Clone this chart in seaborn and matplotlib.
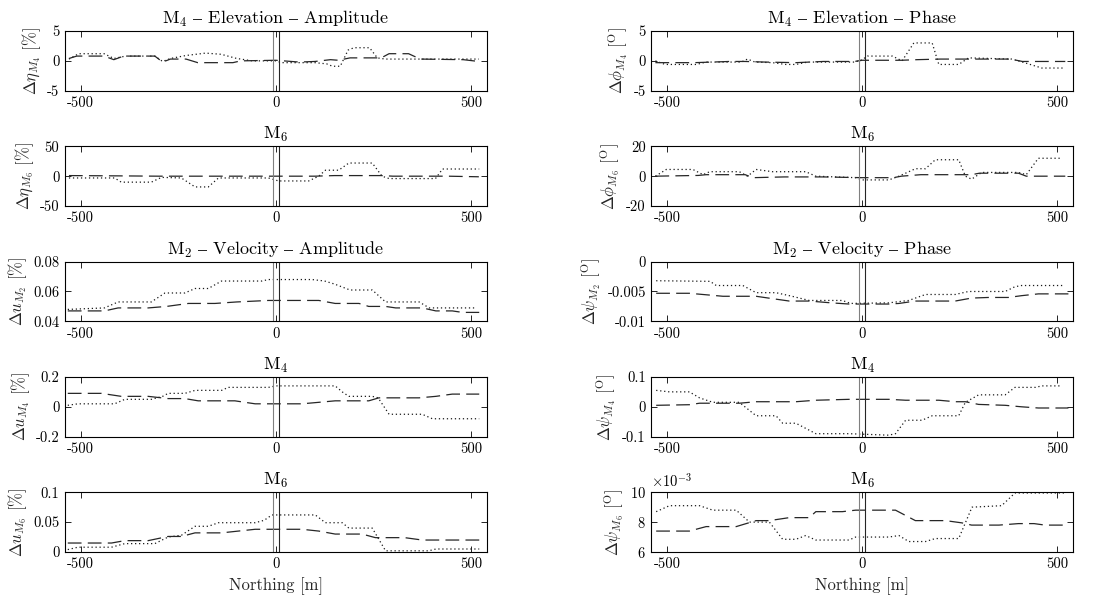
import matplotlib
matplotlib.use("Agg")
import matplotlib.pyplot as plt
import pandas as pd
import seaborn as sns
from matplotlib.ticker import ScalarFormatter

# --- values, one pair of x/y lists per line ---
# M4 elevation amplitude [%]
eta4_dot_x = [-530, -505, -440, -415, -385, -310, -290, -270, -230, -180, -140, -100, -60, 0, 15, 100, 130, 145, 165, 185, 200, 240, 260, 280, 400, 520]
eta4_dot_y = [0.3, 1.2, 1.2, 0.4, 0.8, 0.8, -0.1, 0.4, 0.9, 1.3, 1.1, 0.4, 0.0, 0.0, -0.3, -0.3, -0.5, -0.9, -0.9, 1.8, 2.2, 2.2, 0.5, 0.3, 0.3, 0.3]
eta4_dash_x = [-530, -510, -440, -415, -390, -310, -290, -270, -230, -200, -110, -90, 0, 60, 100, 140, 160, 190, 270, 290, 340, 370, 480, 520]
eta4_dash_y = [0.4, 0.8, 0.8, 0.2, 0.8, 0.8, -0.2, 0.3, 0.3, -0.3, -0.3, 0.0, 0.1, -0.2, -0.1, 0.2, 0.1, 0.5, 0.5, 1.2, 1.2, 0.3, 0.2, -0.1]

# M4 elevation phase [deg]
phi4_dot_x = [-530, -505, -425, -400, -310, -294, -275, -230, -196, -170, -140, -20, 0, 13, 77, 102, 132, 179, 196, 247, 272, 383, 410, 460, 520]
phi4_dot_y = [0.0, -0.6, -0.6, -0.2, -0.2, 0.3, -0.2, -0.3, -0.6, -0.6, -0.2, -0.2, 0.2, 0.8, 0.8, 0.0, 3.0, 3.0, -0.6, -0.6, 0.5, 0.3, -0.2, -1.2, -1.2]
phi4_dash_x = [-530, -430, -340, -300, -250, -170, -100, -20, 0, 100, 140, 200, 380, 410, 520]
phi4_dash_y = [-0.3, -0.3, -0.1, -0.1, -0.2, -0.3, -0.1, -0.1, 0.1, 0.1, 0.2, 0.3, 0.3, -0.1, -0.1]

# M6 elevation amplitude [%]
eta6_dot_x = [-530, -413, -396, -319, -293, -242, -207, -173, -147, -19, 7, 84, 110, 127, 161, 187, 247, 272, 290, 409, 427, 521]
eta6_dot_y = [-3, -3, -10, -10, -2, -3, -18, -18, -3, -3, -8, -8, 0, 10, 10, 22, 22, 0, -4, -4, 12, 12]
eta6_dash_x = [-530, -400, -300, -100, 0, 100, 150, 270, 300, 440, 520]
eta6_dash_y = [1.0, 0.5, 0.0, 0.0, 0.0, 0.0, 1.0, 1.0, 0.0, 0.0, -1.0]

# M6 elevation phase [deg]
phi6_dot_x = [-530, -502, -434, -408, -391, -315, -294, -272, -230, -145, -119, -17, 0, 68, 94, 136, 162, 187, 247, 264, 280, 306, 400, 420, 451, 511]
phi6_dot_y = [0, 4.5, 4.5, 1, 3, 3, 0, 4.5, 3, 3, 0, -1, -2.5, -2.5, 0, 5, 5, 11, 11, 0, -2, 2.5, 2.5, 1, 12, 12]
phi6_dash_x = [-530, -420, -400, -300, -280, -200, -100, 0, 80, 100, 150, 280, 300, 400, 420, 520]
phi6_dash_y = [0, 0.5, 1, 1, -1, -0.5, -0.5, -1, -1, 0, 1, 1, 2, 2, 0, 0]

# M2 velocity amplitude [%]
u2_dot_x = [-533, -439, -404, -319, -284, -233, -207, -173, -139, -36, -19, 93, 125, 150, 190, 247, 281, 367, 393, 512]
u2_dot_y = [0.048, 0.049, 0.053, 0.053, 0.059, 0.059, 0.062, 0.062, 0.067, 0.067, 0.068, 0.068, 0.067, 0.065, 0.061, 0.061, 0.053, 0.053, 0.049, 0.049]
u2_dash_x = [-533, -439, -404, -327, -280, -224, -156, -100, -19, 110, 152, 213, 238, 281, 307, 375, 410, 452, 478, 521]
u2_dash_y = [0.047, 0.047, 0.049, 0.049, 0.050, 0.052, 0.052, 0.053, 0.054, 0.054, 0.052, 0.052, 0.050, 0.050, 0.049, 0.049, 0.047, 0.047, 0.046, 0.046]

# M2 velocity phase [deg]
psi2_dot_x = [-528, -390, -374, -306, -272, -221, -180, -136, -51, -30, 68, 119, 162, 238, 272, 366, 391, 408, 519]
psi2_dot_y = [-0.0032, -0.0033, -0.0040, -0.0040, -0.0052, -0.0052, -0.0058, -0.0065, -0.0065, -0.0070, -0.0069, -0.0065, -0.0055, -0.0055, -0.0050, -0.0050, -0.0042, -0.0040, -0.0040]
psi2_dash_x = [-528, -443, -357, -272, -230, -187, -136, -80, -34, 68, 94, 136, 238, 280, 323, 374, 408, 451, 528]
psi2_dash_y = [-0.0053, -0.0053, -0.0058, -0.0058, -0.0062, -0.0066, -0.0066, -0.0069, -0.0071, -0.0071, -0.0070, -0.0066, -0.0066, -0.0061, -0.0060, -0.0060, -0.0057, -0.0054, -0.0054]

# M4 velocity amplitude [%]
u4_dot_x = [-533, -507, -413, -387, -319, -290, -276, -233, -207, -139, -122, -19, 0, 152, 170, 187, 247, 262, 290, 375, 401, 521]
u4_dot_y = [0.01, 0.02, 0.02, 0.05, 0.05, 0.07, 0.09, 0.09, 0.11, 0.11, 0.13, 0.13, 0.14, 0.14, 0.10, 0.07, 0.07, 0.06, -0.05, -0.05, -0.08, -0.08]
u4_dash_x = [-533, -447, -396, -327, -276, -233, -199, -105, -53, 67, 110, 152, 238, 264, 367, 410, 452, 521]
u4_dash_y = [0.09, 0.09, 0.07, 0.07, 0.055, 0.055, 0.04, 0.04, 0.02, 0.02, 0.03, 0.04, 0.04, 0.06, 0.06, 0.07, 0.085, 0.085]

# M4 velocity phase [deg]
psi4_dot_x = [-528, -494, -443, -417, -383, -315, -272, -221, -204, -170, -119, -34, 68, 85, 111, 153, 179, 247, 264, 298, 366, 391, 443, 460, 511]
psi4_dot_y = [0.055, 0.05, 0.05, 0.03, 0.015, 0.015, -0.03, -0.03, -0.055, -0.055, -0.09, -0.09, -0.095, -0.09, -0.045, -0.045, -0.03, -0.03, 0.015, 0.04, 0.04, 0.065, 0.065, 0.07, 0.07]
psi4_dash_x = [-528, -443, -417, -315, -272, -170, -119, -34, 68, 111, 196, 238, 264, 298, 366, 408, 451, 528]
psi4_dash_y = [0.005, 0.007, 0.012, 0.012, 0.017, 0.017, 0.022, 0.025, 0.025, 0.022, 0.022, 0.017, 0.017, 0.008, 0.005, 0.0, -0.004, -0.004]

# M6 velocity amplitude [%]
u6_dot_x = [-533, -507, -421, -387, -310, -276, -242, -207, -173, -147, -53, -30, -10, 101, 127, 170, 187, 247, 281, 392, 410, 521]
u6_dot_y = [0.004, 0.008, 0.008, 0.014, 0.014, 0.025, 0.028, 0.043, 0.043, 0.049, 0.049, 0.053, 0.062, 0.062, 0.049, 0.049, 0.040, 0.040, 0.002, 0.002, 0.005, 0.005]
u6_dash_x = [-533, -421, -387, -327, -276, -242, -207, -139, -53, 67, 110, 152, 221, 255, 330, 375, 521]
u6_dash_y = [0.015, 0.015, 0.019, 0.019, 0.026, 0.026, 0.032, 0.032, 0.038, 0.038, 0.035, 0.030, 0.030, 0.024, 0.024, 0.020, 0.020]

# M6 velocity phase [deg]
psi6_dot_x = [-528, -494, -417, -383, -323, -289, -238, -204, -170, -145, -119, -34, -17, 68, 94, 119, 162, 187, 247, 281, 357, 391, 519]
psi6_dot_y = [0.0087, 0.0091, 0.0091, 0.0088, 0.0088, 0.0080, 0.0080, 0.00685, 0.00685, 0.0071, 0.0068, 0.0068, 0.0070, 0.0070, 0.0071, 0.0067, 0.0067, 0.0069, 0.0069, 0.0090, 0.0091, 0.00995, 0.00995]
psi6_dash_x = [-528, -443, -400, -323, -272, -238, -187, -136, -119, -51, -17, 85, 136, 213, 255, 280, 350, 400, 440, 468, 528]
psi6_dash_y = [0.0074, 0.0074, 0.0077, 0.0077, 0.0081, 0.0081, 0.0083, 0.0083, 0.0087, 0.0087, 0.0088, 0.0088, 0.0081, 0.0081, 0.00795, 0.0078, 0.0078, 0.0079, 0.0079, 0.0078, 0.0078]

x_ticks = [-500, 0, 500]
x_ticklabels = ["-500", "0", "500"]
gate_lines = [-8, 8]

DASH = r"$\mathrm{–}$"
panel_titles = [
    rf"M$_4$ {DASH} Elevation {DASH} Amplitude", rf"M$_4$ {DASH} Elevation {DASH} Phase",
    r"M$_6$", r"M$_6$",
    rf"M$_2$ {DASH} Velocity {DASH} Amplitude", rf"M$_2$ {DASH} Velocity {DASH} Phase",
    r"M$_4$", r"M$_4$",
    r"M$_6$", r"M$_6$",
]
panel_ylabels = [
    r"$\Delta\eta_{M_4}$ [%]", r"$\Delta\phi_{M_4}$ [$^\mathrm{O}$]",
    r"$\Delta\eta_{M_6}$ [%]", r"$\Delta\phi_{M_6}$ [$^\mathrm{O}$]",
    r"$\Delta u_{M_2}$ [%]", r"$\Delta\psi_{M_2}$ [$^\mathrm{O}$]",
    r"$\Delta u_{M_4}$ [%]", r"$\Delta\psi_{M_4}$ [$^\mathrm{O}$]",
    r"$\Delta u_{M_6}$ [%]", r"$\Delta\psi_{M_6}$ [$^\mathrm{O}$]",
]
panel_yticks = [
    [-5, 0, 5], [-5, 0, 5],
    [-50, 0, 50], [-20, 0, 20],
    [0.04, 0.06, 0.08], [-0.01, -0.005, 0],
    [-0.2, 0, 0.2], [-0.1, 0, 0.1],
    [0, 0.05, 0.1], [0.006, 0.008, 0.010],
]
panel_yticklabels = [
    ["-5", "0", "5"], ["-5", "0", "5"],
    ["-50", "0", "50"], ["-20", "0", "20"],
    ["0.04", "0.06", "0.08"], ["-0.01", "-0.005", "0"],
    ["-0.2", "0", "0.2"], ["-0.1", "0", "0.1"],
    ["0", "0.05", "0.1"], None,
]

series = [
    (eta4_dot_x, eta4_dot_y, eta4_dash_x, eta4_dash_y),
    (phi4_dot_x, phi4_dot_y, phi4_dash_x, phi4_dash_y),
    (eta6_dot_x, eta6_dot_y, eta6_dash_x, eta6_dash_y),
    (phi6_dot_x, phi6_dot_y, phi6_dash_x, phi6_dash_y),
    (u2_dot_x, u2_dot_y, u2_dash_x, u2_dash_y),
    (psi2_dot_x, psi2_dot_y, psi2_dash_x, psi2_dash_y),
    (u4_dot_x, u4_dot_y, u4_dash_x, u4_dash_y),
    (psi4_dot_x, psi4_dot_y, psi4_dash_x, psi4_dash_y),
    (u6_dot_x, u6_dot_y, u6_dash_x, u6_dash_y),
    (psi6_dot_x, psi6_dot_y, psi6_dash_x, psi6_dash_y),
]

sns.set_theme(style="ticks")
plt.rcParams.update({
    "font.family": ["cmr10", "DejaVu Serif"],
    "mathtext.fontset": "cm",
    "axes.unicode_minus": False,
    "axes.formatter.use_mathtext": True,
    "axes.edgecolor": "black",
    "axes.linewidth": 0.8,
    "xtick.direction": "in",
    "ytick.direction": "in",
    "xtick.top": True,
    "ytick.right": True,
    "xtick.major.size": 4,
    "ytick.major.size": 4,
    "xtick.labelsize": 10.5,
    "ytick.labelsize": 10.5,
    "xtick.color": "black",
    "ytick.color": "black",
    "text.color": "black",
})

fig, axes = plt.subplots(5, 2, figsize=(11.08, 6.03), dpi=100)
fig.subplots_adjust(left=0.0587, right=0.9685, bottom=0.0846, top=0.9486,
                    wspace=0.391, hspace=0.93)

for i, ax in enumerate(axes.flat):
    dot_x, dot_y, dash_x, dash_y = series[i]
    dot = pd.DataFrame({"x": dot_x, "y": dot_y})
    dash = pd.DataFrame({"x": dash_x, "y": dash_y})
    sns.lineplot(data=dot, x="x", y="y", ax=ax, color="0.1", lw=0.9,
                 linestyle=(0, (1, 2.2)), estimator=None)
    sns.lineplot(data=dash, x="x", y="y", ax=ax, color="0.15", lw=0.9,
                 linestyle=(0, (11, 5)), estimator=None)
    ax.axvline(gate_lines[0], color="0.5", lw=0.8)
    ax.axvline(gate_lines[1], color="0.15", lw=0.8)

    ax.set_xlim(-540, 540)
    ax.set_xticks(x_ticks, labels=x_ticklabels)
    yt = panel_yticks[i]
    ax.set_ylim(yt[0], yt[-1])
    if panel_yticklabels[i] is None:
        # fixed 10^-3 scaling, like the reference's offset label
        ax.set_yticks(yt)
        fmt = ScalarFormatter(useMathText=True)
        fmt.set_powerlimits((-3, -3))
        ax.yaxis.set_major_formatter(fmt)
        ax.yaxis.get_offset_text().set_fontsize(10.5)
    else:
        ax.set_yticks(yt, labels=panel_yticklabels[i])

    ax.set_title(panel_titles[i], fontsize=13, pad=5)
    ax.set_ylabel(panel_ylabels[i], fontsize=12, labelpad=3)
    ax.set_xlabel("Northing [m]" if i >= 8 else "", fontsize=12)
    ax.tick_params(length=4, width=0.6, pad=4)

fig.savefig("out.png", dpi=100)
